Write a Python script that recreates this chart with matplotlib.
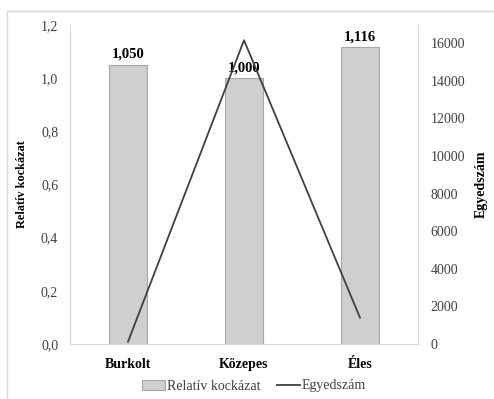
import matplotlib.pyplot as plt
import matplotlib.patches as patches
from matplotlib.ticker import FuncFormatter

categories = ['Burkolt', 'Közepes', 'Éles']
rel_risk = [1.050, 1.000, 1.116]
counts = [120, 16150, 1400]
left_ticks = [0.0, 0.2, 0.4, 0.6, 0.8, 1.0, 1.2]
right_ticks = [0, 2000, 4000, 6000, 8000, 10000, 12000, 14000, 16000]

plt.rcParams['font.family'] = ['Liberation Serif', 'DejaVu Serif']

fig = plt.figure(figsize=(4.94, 3.99), dpi=100)
# outer chart frame
fig.patches.append(patches.Rectangle((7 / 494, -0.1), 1.2, 1 - 11 / 399 + 0.1,
                                     transform=fig.transFigure, fill=False,
                                     edgecolor='#d9d9d9', linewidth=1))

ax = fig.add_axes([70 / 494, 1 - 344 / 399, (418 - 70) / 494, (344 - 25) / 399])
x = range(len(categories))
bars = ax.bar(x, rel_risk, width=0.32, color='#d0cfd0', edgecolor='#a6a6a6',
              linewidth=0.8, label='Relatív kockázat', zorder=2)
ax.set_xlim(-0.5, 2.5)
ax.set_ylim(0, 1.2)
ax.set_yticks(left_ticks)
ax.yaxis.set_major_formatter(FuncFormatter(lambda v, p: ('%.1f' % v).replace('.', ',')))
ax.set_xticks(list(x))
ax.set_xticklabels(categories, fontweight='bold', fontsize=10.5)
ax.tick_params(length=0, labelsize=10, colors='#404040', pad=8.5)
ax.tick_params(axis='x', colors='black', pad=10)
for s in ['top', 'right']:
    ax.spines[s].set_visible(False)
ax.spines['left'].set_color('#d9d9d9')
ax.spines['bottom'].set_color('#d9d9d9')
ax.set_ylabel('Relatív kockázat', fontweight='bold', fontsize=8.8, labelpad=9)

for b, v in zip(bars, rel_risk):
    ax.text(b.get_x() + b.get_width() / 2, v + 0.015, ('%.3f' % v).replace('.', ','),
            ha='center', va='bottom', fontweight='bold', fontsize=10.5)

ax2 = ax.twinx()
line, = ax2.plot(list(x), counts, color='#404040', linewidth=1.3, label='Egyedszám', zorder=3)
ax2.set_ylim(0, 16960)
ax2.set_yticks(right_ticks)
ax2.tick_params(length=0, labelsize=10, colors='#404040', pad=9)
for s in ['top', 'left', 'bottom']:
    ax2.spines[s].set_visible(False)
ax2.spines['right'].set_color('#d9d9d9')
ax2.set_ylabel('Egyedszám', fontweight='bold', fontsize=10, labelpad=7)

fig.legend([bars, line], ['Relatív kockázat', 'Egyedszám'], loc='center',
           bbox_to_anchor=(254 / 494, 1 - 386 / 399), ncol=2, frameon=False,
           fontsize=10, handlelength=1.65, handletextpad=0.15, columnspacing=1.2,
           labelcolor='#404040')

fig.savefig('out.png', dpi=100)
